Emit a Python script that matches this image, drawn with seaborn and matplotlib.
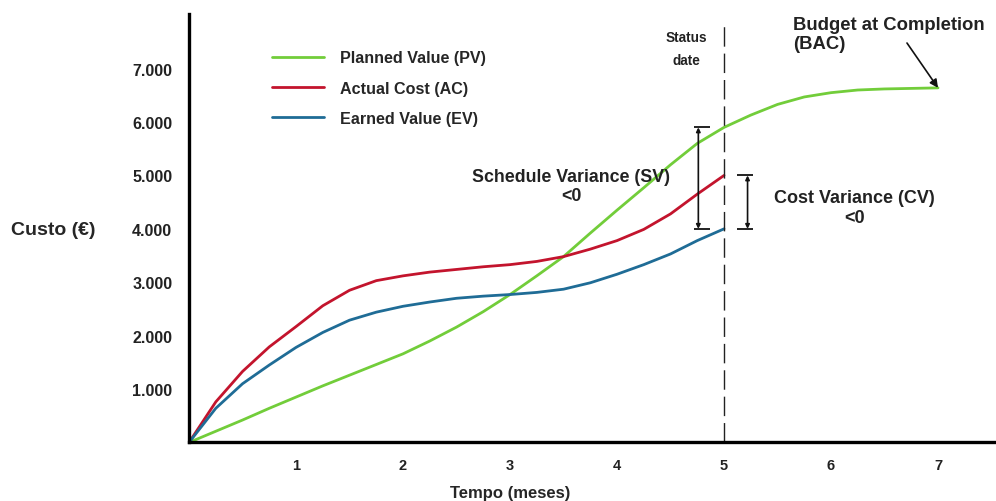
import matplotlib
matplotlib.use("Agg")
import matplotlib.pyplot as plt
import seaborn as sns
import pandas as pd

# Earned value management: planned value, actual cost and earned value over time
months = [0, 0.25, 0.5, 0.75, 1, 1.25, 1.5, 1.75, 2, 2.25, 2.5, 2.75, 3,
          3.25, 3.5, 3.75, 4, 4.25, 4.5, 4.75, 5,
          5.25, 5.5, 5.75, 6, 6.25, 6.5, 6.75, 7]
planned_value = [0, 210, 420, 640, 850, 1060, 1260, 1460, 1660, 1900, 2160, 2450, 2770,
                 3120, 3480, 3920, 4350, 4770, 5200, 5600, 5900,
                 6130, 6330, 6470, 6550, 6600, 6620, 6630, 6640]
status_months = months[:21]
actual_cost = [0, 760, 1330, 1790, 2170, 2560, 2850, 3030, 3120, 3190, 3240, 3290, 3330,
               3390, 3480, 3620, 3780, 3990, 4280, 4650, 5000]
earned_value = [0, 640, 1100, 1450, 1780, 2060, 2290, 2440, 2550, 2630, 2700, 2740, 2770,
                2810, 2870, 2990, 3150, 3330, 3530, 3780, 4000]

series_names = ["Planned Value (PV)", "Actual Cost (AC)", "Earned Value (EV)"]
series_colors = ["#72cd3a", "#c3142d", "#1f6c96"]
y_ticks = [1000, 2000, 3000, 4000, 5000, 6000, 7000]
y_tick_labels = ["1.000", "2.000", "3.000", "4.000", "5.000", "6.000", "7.000"]
x_ticks = [1, 2, 3, 4, 5, 6, 7]
x_tick_labels = ["1", "2", "3", "4", "5", "6", "7"]
status_month = 5

sns.set_style("white")
plt.rcParams["font.family"] = ["Liberation Sans", "DejaVu Sans"]

df = pd.concat([
    pd.DataFrame({"Tempo": months, "Custo": planned_value, "Série": series_names[0]}),
    pd.DataFrame({"Tempo": status_months, "Custo": actual_cost, "Série": series_names[1]}),
    pd.DataFrame({"Tempo": status_months, "Custo": earned_value, "Série": series_names[2]}),
])

fig = plt.figure(figsize=(9.96, 5.02), dpi=100)
ax = fig.add_axes([0.1898, 0.1166, 0.8102, 0.8536])

sns.lineplot(data=df, x="Tempo", y="Custo", hue="Série", hue_order=series_names,
             palette=dict(zip(series_names, series_colors)), linewidth=2.0,
             ax=ax, sort=False, legend=True, solid_joinstyle="round",
             solid_capstyle="round")

ax.set_xlim(0, 7.542)
ax.set_ylim(0, 8024)
for side in ["top", "right"]:
    ax.spines[side].set_visible(False)
for side in ["left", "bottom"]:
    ax.spines[side].set_linewidth(2.4)
    ax.spines[side].set_color("black")

ax.set_xticks(x_ticks)
ax.set_xticklabels(x_tick_labels, fontsize=10.5, fontweight="bold", color="#222222")
ax.set_yticks(y_ticks)
ax.set_yticklabels(y_tick_labels, fontsize=11.5, fontweight="bold", color="#222222")
ax.tick_params(axis="both", length=0)
ax.tick_params(axis="y", pad=12)
ax.tick_params(axis="x", pad=11)
ax.set_xlabel("")
ax.set_ylabel("")

fig.text(0.053, 0.540, "Custo (€)", fontsize=14, fontweight="bold",
         ha="center", va="center")
fig.text(0.512, 0.002, "Tempo (meses)", fontsize=12, fontweight="bold",
         ha="center", va="bottom")

ax.legend(loc="upper left", bbox_to_anchor=(0.103, 0.915), frameon=False,
          prop={"weight": "bold", "size": 11.6},
          handlelength=3.2, handletextpad=1.0, labelspacing=0.95,
          borderpad=0, borderaxespad=0)

# Status date marker
ax.plot([status_month, status_month], [0, 7850], color="#222222", lw=1.0,
        dashes=(14, 5))
ax.text(4.645, 7380, "Status\ndate", fontsize=9.8, fontweight="bold",
        ha="center", va="center", linespacing=1.85, color="#222222")

pv_at_status = planned_value[months.index(status_month)]
ac_at_status = actual_cost[-1]
ev_at_status = earned_value[-1]

# Schedule variance bracket (EV vs PV)
sv_x = 4.76
ax.annotate("", xy=(sv_x, pv_at_status), xytext=(sv_x, ev_at_status),
            arrowprops=dict(arrowstyle="<|-|>", color="#111111", lw=1.2,
                            mutation_scale=6, shrinkA=0, shrinkB=0))
ax.hlines([pv_at_status, ev_at_status], 4.72, 4.87, colors="#111111", lw=1.3)
ax.text(3.57, 4800, "Schedule Variance (SV)\n<0", fontsize=12.8, fontweight="bold",
        ha="center", va="center", linespacing=1.17, color="#222222")

# Cost variance bracket (EV vs AC)
cv_x = 5.22
ax.annotate("", xy=(cv_x, ac_at_status), xytext=(cv_x, ev_at_status),
            arrowprops=dict(arrowstyle="<|-|>", color="#111111", lw=1.2,
                            mutation_scale=6, shrinkA=0, shrinkB=0))
ax.hlines([ac_at_status, ev_at_status], 5.12, 5.27, colors="#111111", lw=1.3)
ax.text(6.22, 4400, "Cost Variance (CV)\n<0", fontsize=13, fontweight="bold",
        ha="center", va="center", linespacing=1.17, color="#222222")

# Budget at completion
ax.annotate("", xy=(months[-1], planned_value[-1]), xytext=(6.71, 7480),
            arrowprops=dict(arrowstyle="-|>", color="#111111", lw=1.2,
                            mutation_scale=12, shrinkA=0, shrinkB=0))
ax.text(5.645, 7640, "Budget at Completion\n(BAC)", fontsize=13.3, fontweight="bold",
        ha="left", va="center", linespacing=1.15, color="#222222", clip_on=False)

fig.savefig("out.png", dpi=100)
